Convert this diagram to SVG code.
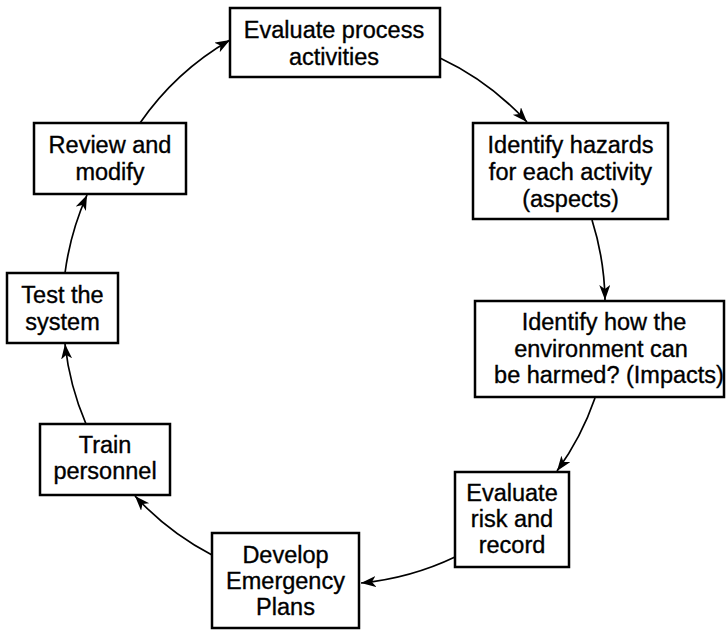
<svg xmlns="http://www.w3.org/2000/svg" width="726" height="630" viewBox="0 0 726 630">
  <style>
    .box { fill: #ffffff; stroke: #000000; stroke-width: 2.5; }
    .lbl { font-family: "Liberation Sans", Arial, sans-serif; font-size: 23.5px; fill: #000000; stroke: #000000; stroke-width: 0.35; text-anchor: middle; }
    .arc { fill: none; stroke: #000000; stroke-width: 1.7; marker-end: url(#head); }
  </style>
  <defs>
    <marker id="head" markerUnits="userSpaceOnUse" markerWidth="18" markerHeight="14" refX="15" refY="5.5" orient="auto">
      <path d="M0,0 L15,5.5 L0,11 L4,5.5 z" fill="#000000"/>
    </marker>
  </defs>
  <rect width="726" height="630" fill="#ffffff"/>

  <!-- cycle connectors -->
  <g id="connectors">
    <path class="arc" d="M440,58 A 280 280 0 0 1 527,122"/>
    <path class="arc" d="M592,220 A 280 280 0 0 1 605,300"/>
    <path class="arc" d="M595,398 A 280 280 0 0 1 557,471"/>
    <path class="arc" d="M455,557 A 280 280 0 0 1 361,583"/>
    <path class="arc" d="M212,555 A 280 280 0 0 1 135,496"/>
    <path class="arc" d="M86,424 A 280 280 0 0 1 65,344"/>
    <path class="arc" d="M65,273 A 280 280 0 0 1 87,195"/>
    <path class="arc" d="M140,123 A 280 280 0 0 1 230,40"/>
  </g>

  <g id="evaluate-process">
    <rect class="box" x="230" y="8" width="210" height="69"/>
    <text class="lbl" x="334" y="38">Evaluate process</text>
    <text class="lbl" x="334" y="65">activities</text>
  </g>

  <g id="identify-hazards">
    <rect class="box" x="473" y="123" width="195" height="96"/>
    <text class="lbl" x="570.5" y="153">Identify hazards</text>
    <text class="lbl" x="570.5" y="180">for each activity</text>
    <text class="lbl" x="570.5" y="207">(aspects)</text>
  </g>

  <g id="identify-impacts">
    <rect class="box" x="475" y="301" width="249" height="96"/>
    <text class="lbl" x="604" y="330">Identify how the</text>
    <text class="lbl" x="601" y="357">environment can</text>
    <text class="lbl" x="609" y="383">be harmed? (Impacts)</text>
  </g>

  <g id="evaluate-risk">
    <rect class="box" x="455" y="472" width="114" height="95"/>
    <text class="lbl" x="512" y="501">Evaluate</text>
    <text class="lbl" x="512" y="527">risk and</text>
    <text class="lbl" x="512" y="553">record</text>
  </g>

  <g id="emergency-plans">
    <rect class="box" x="212" y="533" width="147" height="95"/>
    <text class="lbl" x="285.5" y="563">Develop</text>
    <text class="lbl" x="285.5" y="589">Emergency</text>
    <text class="lbl" x="285.5" y="615">Plans</text>
  </g>

  <g id="train-personnel">
    <rect class="box" x="40" y="424" width="130" height="71"/>
    <text class="lbl" x="105" y="453">Train</text>
    <text class="lbl" x="105" y="479">personnel</text>
  </g>

  <g id="test-system">
    <rect class="box" x="7" y="273" width="111" height="70"/>
    <text class="lbl" x="62.5" y="303">Test the</text>
    <text class="lbl" x="62.5" y="330">system</text>
  </g>

  <g id="review-modify">
    <rect class="box" x="34" y="123" width="152" height="71"/>
    <text class="lbl" x="110" y="153">Review and</text>
    <text class="lbl" x="110" y="180">modify</text>
  </g>
</svg>
